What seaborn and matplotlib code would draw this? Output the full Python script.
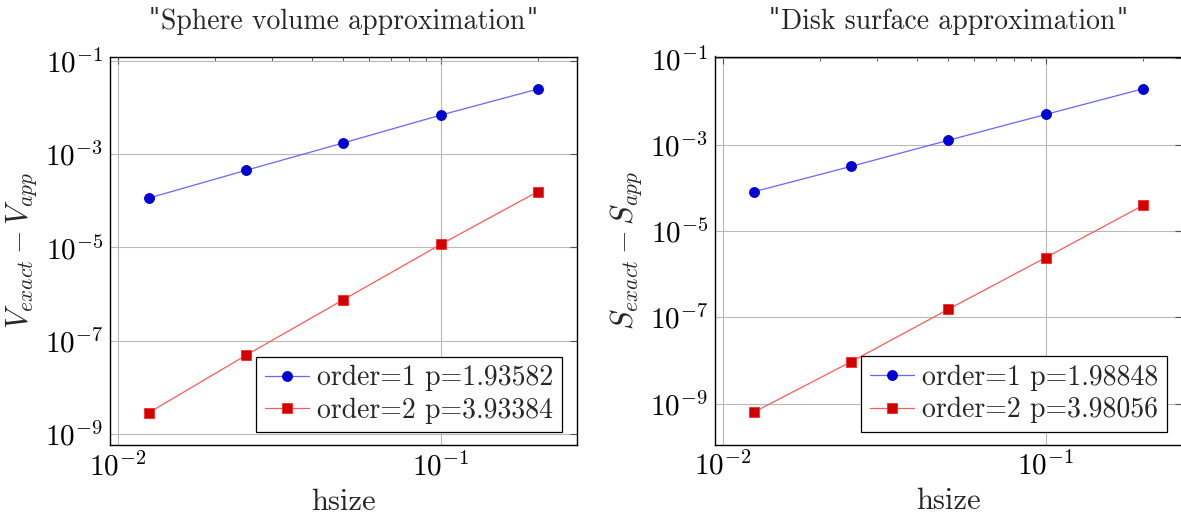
import numpy as np
import pandas as pd
import matplotlib
matplotlib.use("Agg")
import matplotlib.pyplot as plt
import matplotlib.ticker as mticker
import seaborn as sns

# ---------------- data ----------------
hsize = [0.0125, 0.025, 0.05, 0.1, 0.2]

sphere_order1 = [1.15e-4, 4.53e-4, 1.75e-3, 6.9e-3, 2.5e-2]
sphere_order2 = [2.87e-9, 4.9e-8, 7.6e-7, 1.16e-5, 1.58e-4]
sphere_labels = ["order=1 p=1.93582", "order=2 p=3.93384"]

disk_order1 = [8.07e-5, 3.13e-4, 1.26e-3, 4.99e-3, 1.96e-2]
disk_order2 = [6.3e-10, 9.3e-9, 1.53e-7, 2.4e-6, 3.89e-5]
disk_labels = ["order=1 p=1.98848", "order=2 p=3.98056"]

titles = ["Sphere volume approximation", "Disk surface approximation"]
ylabels = [r"$V_{exact} - V_{app}$", r"$S_{exact} - S_{app}$"]
xlabel = "hsize"
yticks = [1e-1, 1e-3, 1e-5, 1e-7, 1e-9]
xticks = [1e-2, 1e-1]

# ---------------- style ----------------
sns.set_style("white")
plt.rcParams["font.family"] = ["cmr10", "DejaVu Serif"]
plt.rcParams["mathtext.fontset"] = "cm"
plt.rcParams["axes.formatter.use_mathtext"] = True
plt.rcParams["axes.unicode_minus"] = False

W, H = 1181, 515
fig = plt.figure(figsize=(W / 100, H / 100), dpi=100)

axes_rects = [
    [110 / W, 1 - 445 / H, 466.7 / W, 388.3 / H],
    [715 / W, 1 - 444.5 / H, 466.7 / W, 388.0 / H],
]

series_sets = [
    (sphere_order1, sphere_order2, sphere_labels),
    (disk_order1, disk_order2, disk_labels),
]

for i, (rect, (s1, s2, labs)) in enumerate(zip(axes_rects, series_sets)):
    ax = fig.add_axes(rect)
    df1 = pd.DataFrame({"hsize": hsize, "err": s1})
    df2 = pd.DataFrame({"hsize": hsize, "err": s2})
    sns.lineplot(data=df1, x="hsize", y="err", ax=ax, color=(0.4, 0.4, 1.0),
                 lw=0.9, marker="o", markersize=7.2, markerfacecolor=(0, 0, 0.82),
                 markeredgecolor=(0, 0, 0.9), markeredgewidth=0.6, label=labs[0])
    sns.lineplot(data=df2, x="hsize", y="err", ax=ax, color=(1.0, 0.35, 0.35),
                 lw=0.9, marker="s", markersize=7.2, markerfacecolor=(0.82, 0, 0),
                 markeredgecolor=(1.0, 0.15, 0.15), markeredgewidth=0.6, label=labs[1])
    ax.set_xscale("log")
    ax.set_yscale("log")

    # pgfplots-like 10% enlargement of limits in log space
    lx = np.log10(hsize)
    dx = (lx.max() - lx.min()) * 0.1
    ax.set_xlim(10 ** (lx.min() - dx), 10 ** (lx.max() + dx))
    ally = np.log10(np.concatenate([s1, s2]))
    dy = (ally.max() - ally.min()) * 0.1
    ax.set_ylim(10 ** (ally.min() - dy), 10 ** (ally.max() + dy))

    ax.xaxis.set_major_locator(mticker.FixedLocator(xticks))
    ax.xaxis.set_minor_locator(mticker.LogLocator(base=10, subs=np.arange(2, 10), numticks=20))
    ax.xaxis.set_minor_formatter(mticker.NullFormatter())
    ax.xaxis.set_major_formatter(mticker.LogFormatterMathtext())
    ax.yaxis.set_major_locator(mticker.FixedLocator(yticks))
    ax.yaxis.set_minor_locator(mticker.NullLocator())
    ax.yaxis.set_major_formatter(mticker.LogFormatterMathtext())

    ax.grid(True, which="major", color="#b8b8b8", lw=0.8)
    ax.tick_params(which="both", direction="in", top=True, right=True,
                   colors="#555555", labelcolor="black", labelsize=21)
    ax.tick_params(which="major", length=5, width=0.8, pad=5)
    ax.tick_params(which="minor", length=3.2, width=0.7)
    for sp in ax.spines.values():
        sp.set_color("black")
        sp.set_linewidth(1.0)

    t = ax.set_title(titles[i], fontsize=20, pad=20)
    # straight double quotes around the title
    ax.annotate('"', xy=(0, 1), xycoords=t, ha="right", va="top",
                xytext=(-1, 1), textcoords="offset points",
                fontsize=17, family="DejaVu Serif")
    ax.annotate('"', xy=(1, 1), xycoords=t, ha="left", va="top",
                xytext=(1, 1), textcoords="offset points",
                fontsize=17, family="DejaVu Serif")
    ax.set_xlabel(xlabel, fontsize=22, labelpad=5)
    ax.set_ylabel(ylabels[i], fontsize=22, labelpad=4)

    leg = ax.legend(loc="lower right", bbox_to_anchor=(0.9685, 0.033),
                    borderaxespad=0, fontsize=20, frameon=True, fancybox=False,
                    framealpha=1, edgecolor="black", handlelength=1.6,
                    handletextpad=0.3, borderpad=0.3, labelspacing=0.22)
    leg.get_frame().set_linewidth(0.9)

fig.savefig("out.png", dpi=100)
